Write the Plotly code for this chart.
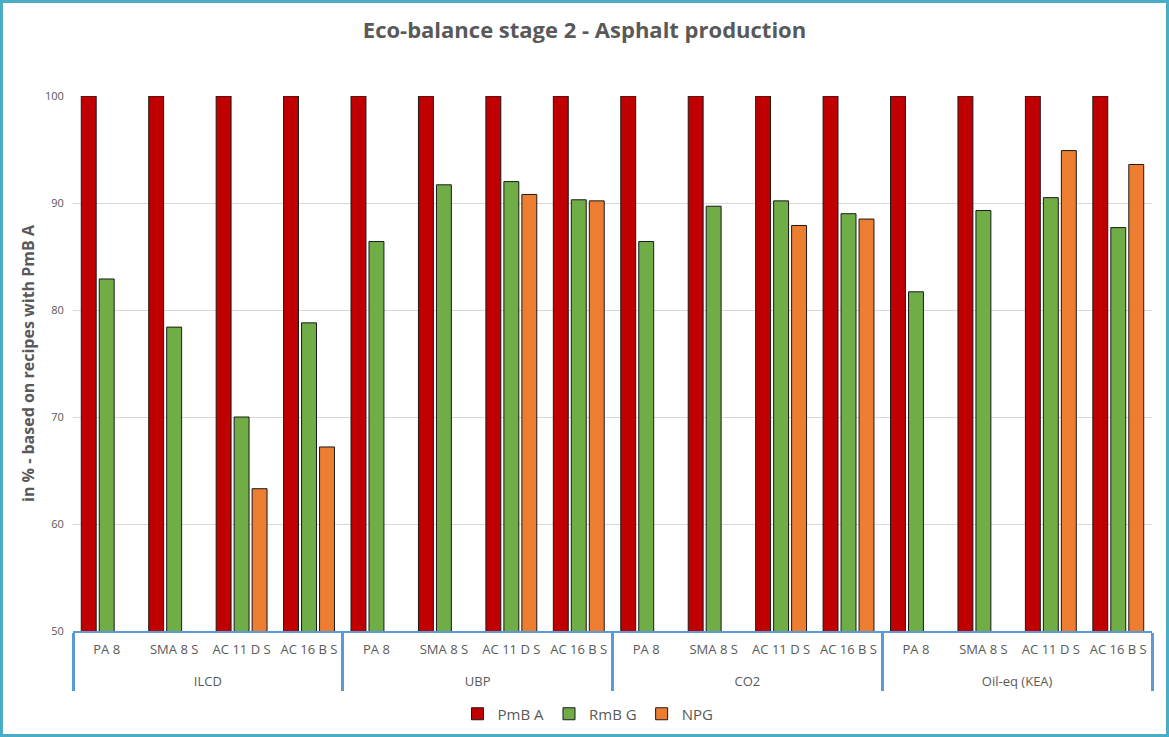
import plotly.graph_objects as go

# Impact assessment methods (outer level) and asphalt recipes (inner level)
methods = ["ILCD", "UBP", "CO2", "Oil-eq (KEA)"]
recipes = ["PA 8", "SMA 8 S", "AC 11 D S", "AC 16 B S"]

# Values in % relative to the recipe with PmB A, in order method x recipe
pmb_a = [100, 100, 100, 100,
         100, 100, 100, 100,
         100, 100, 100, 100,
         100, 100, 100, 100]
rmb_g = [82.9, 78.4, 70.0, 78.8,
         86.4, 91.7, 92.0, 90.3,
         86.4, 89.7, 90.2, 89.0,
         81.7, 89.3, 90.5, 87.7]
npg = [None, None, 63.3, 67.2,
       None, None, 90.8, 90.2,
       None, None, 87.9, 88.5,
       None, None, 94.9, 93.6]

# Outer labels start with an empty line to open up space below the recipe row
outer = ["<br>" + m for m in methods for _ in recipes]
inner = [r for _ in methods for r in recipes]

series = [
    ("PmB A", pmb_a, "#C00000"),
    ("RmB G", rmb_g, "#70AD47"),
    ("NPG", npg, "#ED7D31"),
]

fig = go.Figure()
for name, vals, color in series:
    fig.add_trace(go.Bar(
        name=name,
        x=[outer, inner],
        y=vals,
        marker=dict(color=color, line=dict(color="#1a1a1a", width=1)),
    ))

W, H = 1169, 737
ml, mr, mt, mb = 73, 17, 96, 106
pw, ph = W - ml - mr, H - mt - mb

fig.update_layout(
    width=W, height=H,
    margin=dict(l=ml, r=mr, t=mt, b=mb, autoexpand=False),
    paper_bgcolor="white",
    plot_bgcolor="white",
    barmode="group",
    bargap=0.2,
    bargroupgap=0.17,
    font=dict(family="Open Sans, sans-serif", color="#595959"),
    title=dict(
        text="<b>Eco-balance stage 2 - Asphalt production</b>",
        x=0.5, xref="container", xanchor="center",
        y=1 - 30 / H, yanchor="middle",
        font=dict(size=22, color="#595959", family="Open Sans, sans-serif"),
    ),
    legend=dict(
        orientation="h",
        x=(588 - ml) / pw, xanchor="center",
        y=-(714 - (mt + ph)) / ph, yanchor="middle",
        font=dict(size=15, color="#595959"),
        itemwidth=30,
        traceorder="normal",
    ),
    xaxis=dict(
        type="multicategory",
        showline=True, linecolor="#5B9BD5", linewidth=2,
        showdividers=True, dividercolor="#5B9BD5", dividerwidth=3,
        ticks="", ticklabelstandoff=5,
        tickangle=0,
        tickfont=dict(size=13, color="#595959"),
        showgrid=False,
    ),
    yaxis=dict(
        range=[50, 100],
        dtick=10,
        showgrid=True, gridcolor="#D9D9D9", gridwidth=1,
        zeroline=False,
        tickfont=dict(size=11, color="#595959"),
        ticks="outside", ticklen=6, tickcolor="rgba(0,0,0,0)",
        title=dict(
            text="<b>in % - based on recipes with PmB A</b>",
            font=dict(size=16, color="#595959"),
            standoff=6,
        ),
    ),
)

# Light blue frame around the whole chart
fig.add_shape(
    type="rect", xref="paper", yref="paper",
    x0=(-ml + 1.5) / pw, x1=1 + (mr - 1.5) / pw,
    y0=(-mb + 1.5) / ph, y1=1 + (mt - 1.5) / ph,
    line=dict(color="#4BACC6", width=3),
    fillcolor="rgba(0,0,0,0)",
    layer="above",
)

fig.write_html("out.html")
